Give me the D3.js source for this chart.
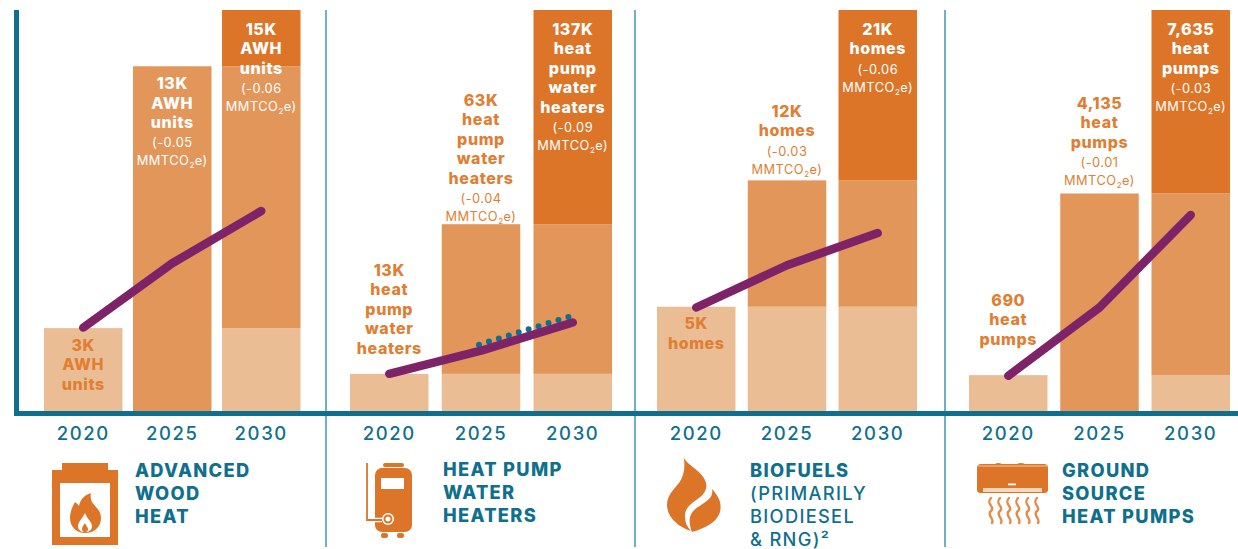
<!DOCTYPE html>
<html><head><meta charset="utf-8">
<script src="https://cdnjs.cloudflare.com/ajax/libs/d3/7.8.5/d3.min.js"></script>
<style>html,body{margin:0;padding:0;background:#fff}svg{display:block;font-family:Inter,"Open Sans",sans-serif}</style>
</head><body><svg id="c" width="1238" height="549"></svg>
<script>
const years = ["2020","2025","2030"];
const awhValues = [3.13, 12.9, 15];
const hpwhValues = [13, 64, 137];
const biofuelValues = [5.5, 12.1, 21];
const gshpValues = [700, 4150, 7635];
const awhLine = [0.042, 0.074, 0.1];
const hpwhLine = [0.019, 0.0305, 0.0445];
const biofuelLine = [0.052, 0.073, 0.089];
const gshpLine = [0.018, 0.052, 0.098];
const hpwhDots = [0.0335, 0.048];
const awhLabels = [["3K","AWH","units"],["13K","AWH","units","(-0.05","MMTCO2e)"],["15K","AWH","units","(-0.06","MMTCO2e)"]];
const hpwhLabels = [["13K","heat","pump","water","heaters"],["63K","heat","pump","water","heaters","(-0.04","MMTCO2e)"],["137K","heat","pump","water","heaters","(-0.09","MMTCO2e)"]];
const biofuelLabels = [["5K","homes"],["12K","homes","(-0.03","MMTCO2e)"],["21K","homes","(-0.06","MMTCO2e)"]];
const gshpLabels = [["690","heat","pumps"],["4,135","heat","pumps","(-0.01","MMTCO2e)"],["7,635","heat","pumps","(-0.03","MMTCO2e)"]];
const awhTitle = ["ADVANCED","WOOD","HEAT"];
const hpwhTitle = ["HEAT PUMP","WATER","HEATERS"];
const biofuelTitle = ["BIOFUELS","(PRIMARILY","BIODIESEL","& RNG)²"];
const gshpTitle = ["GROUND","SOURCE","HEAT PUMPS"];

const C = {light:"#EBBD95", mid:"#E2965A", dark:"#DC7528", text:"#E07F33", teal:"#0F6F8E", div:"#6FB0C2", line:"#7F2369"};
const baseY = 413, topY = 10, bw = 78.5;
const svg = d3.select("#c");
const yLine = d3.scaleLinear().domain([0,0.2]).range([baseY-1,topY]);

const panels = [
 {values:awhValues,line:awhLine,labels:awhLabels,title:awhTitle,range:[44,300.5],tx:135,ty:470,noBase2025:true,
  place:[{inside:17,c:C.text},{inside:17,c:"#fff"},{inside:19,c:"#fff"}]},
 {values:hpwhValues,line:hpwhLine,labels:hpwhLabels,title:hpwhTitle,range:[350,612],tx:443,ty:469,dots:hpwhDots,
  place:[{first:270,c:C.text},{first:100,c:C.text},{inside:19,c:"#fff"}]},
 {values:biofuelValues,line:biofuelLine,labels:biofuelLabels,title:biofuelTitle,range:[657,917],tx:750,ty:470,boldLines:1,
  place:[{inside:17,c:C.text},{first:111,c:C.text},{inside:19,c:"#fff"}]},
 {values:gshpValues,line:gshpLine,labels:gshpLabels,title:gshpTitle,range:[969,1230],tx:1062,ty:470,noBase2025:true,
  place:[{first:300,c:C.text},{first:103,c:C.text},{inside:19,c:"#fff"}]}
];

panels.forEach(p=>{
  const W = p.range[1]-p.range[0], gap=(W-3*bw)/2;
  const x = d3.scaleBand().domain(years).range(p.range).paddingInner(gap/(bw+gap)).paddingOuter(0);
  const y = d3.scaleLinear().domain([0,d3.max(p.values)]).range([baseY-1,topY]);
  const g = svg.append("g");
  years.forEach((yr,i)=>{
    const lv=[0,...p.values];
    for(let j=0;j<=i;j++){
      let lo=lv[j], hi=lv[j+1];
      if(i===1&&p.noBase2025){ if(j===0) continue; lo=0; }
      g.append("rect").attr("x",x(yr)).attr("width",x.bandwidth())
       .attr("y",y(hi)).attr("height",y(lo)-y(hi))
       .attr("fill",[C.light,C.mid,C.dark][j]);
    }
  });
  const ln = d3.line().x((d,i)=>x(years[i])+x.bandwidth()/2).y(d=>yLine(d));
  if(p.dots){
    const xd=d3.scaleLinear().domain([0,1]).range([x(years[1])+x.bandwidth()/2-2,x(years[2])+x.bandwidth()/2]);
    svg.append("path").datum(p.dots)
     .attr("d",d3.line().x((d,i)=>xd(i)).y(d=>yLine(d)))
     .attr("fill","none").attr("stroke",C.teal).attr("stroke-width",6).attr("stroke-linecap","round").attr("stroke-dasharray","0 10.4");
  }
  svg.append("path").datum(p.line).attr("d",ln).attr("fill","none").attr("stroke",C.line)
    .attr("stroke-width",8.5).attr("stroke-linecap","round").attr("stroke-linejoin","round");
  // value labels
  const tg = svg.append("g").attr("text-anchor","middle");
  p.labels.forEach((lines,i)=>{
    const pl=p.place[i];
    const cx=x(years[i])+x.bandwidth()/2;
    const y0 = pl.first!==undefined ? pl.first : y(p.values[i])+pl.inside;
    lines.forEach((t,k)=>{
      const sm = t.startsWith("(")||t.startsWith("MMT");
      const yy = y0 + k*19.5 + (sm?1:0) - (t.startsWith("MMT")?1.5:0);
      const el = tg.append("text").attr("x",cx).attr("y",yy).attr("dy","0.36em").attr("fill",pl.c)
        .attr("font-size",sm?12.8:16).attr("font-weight",sm?400:800)
        .attr("letter-spacing",sm?0.5:0.6);
      if(t.includes("CO2")){
        const parts=t.split("2");
        el.append("tspan").text(parts[0]);
        el.append("tspan").attr("font-size",8).attr("dy",3).text("2");
        el.append("tspan").attr("dy",-3).text(parts[1]);
      } else el.text(t);
    });
  });
  // year axis
  const ax = svg.append("g").attr("transform",`translate(0,${baseY+20})`).call(d3.axisBottom(x).tickSize(0).tickPadding(0));
  ax.select(".domain").remove();
  ax.selectAll("text").attr("fill",C.teal).attr("font-size",18.5).attr("font-weight",500)
    .attr("font-family","Inter").attr("letter-spacing",1.6).attr("dy","0.36em");
  // panel title
  const tt = svg.append("g");
  p.title.forEach((t,k)=>{
    const reg = p.boldLines && k>=p.boldLines;
    tt.append("text").attr("x",p.tx).attr("y",p.ty+k*23.2).attr("dy","0.36em").attr("fill",C.teal)
      .attr("font-size",18.3).attr("font-weight",reg?500:800).attr("letter-spacing",1.3).text(t);
  });
});

// axes and dividers
[326,635,945].forEach(xx=>{
  svg.append("line").attr("x1",xx).attr("x2",xx).attr("y1",topY).attr("y2",547).attr("stroke",C.div).attr("stroke-width",2);
});
svg.append("rect").attr("x",14).attr("y",topY).attr("width",5).attr("height",baseY+3-topY).attr("fill",C.teal);
svg.append("rect").attr("x",14).attr("y",baseY-2).attr("width",1224).attr("height",5).attr("fill",C.teal);

// icons
const o=C.dark;
const i1=svg.append("g");
i1.append("path").attr("fill",o).attr("d","M62 467V463H108V470H118V545H52V470H62Z");
i1.append("rect").attr("x",60).attr("y",483).attr("width",50).attr("height",54).attr("fill","#fff");
i1.append("path").attr("fill",o).attr("d","M91 493C84 495 80 500 79 506C77 503 76 503 75 502C71 509 70 514 70 518C70 527 77 533 85 533C94 533 101 527 101 518C101 510 95 507 92 502C91 499 90 496 91 493Z");
i1.append("path").attr("fill","#fff").attr("d","M85 513C82 519 78 522 78 526C78 530 81 532 85 532C89 532 92 530 92 526C92 522 87 519 85 513Z");
i1.append("path").attr("fill",o).attr("d","M85 523C83 526 82 527 82 529C82 531 83 532 85 532C87 532 88 531 88 529C88 527 86 526 85 523Z");

const i2=svg.append("g");
i2.append("rect").attr("x",383).attr("y",463).attr("width",21).attr("height",4).attr("rx",2).attr("fill",o);
i2.append("rect").attr("x",375).attr("y",468).attr("width",37).attr("height",64).attr("rx",7).attr("fill",o);
i2.append("rect").attr("x",381).attr("y",478).attr("width",23).attr("height",11).attr("fill","#fff");
i2.append("path").attr("fill","none").attr("stroke","#fff").attr("stroke-width",4.5).attr("d","M370 520H382");
i2.append("path").attr("fill","none").attr("stroke",o).attr("stroke-width",1.8).attr("d","M367 463V520H382");
i2.append("circle").attr("cx",388).attr("cy",519).attr("r",6).attr("fill","#fff");
i2.append("circle").attr("cx",388).attr("cy",519).attr("r",3.5).attr("fill","none").attr("stroke",o).attr("stroke-width",2);
i2.append("rect").attr("x",381).attr("y",533).attr("width",7).attr("height",5).attr("rx",2).attr("fill",o);
i2.append("rect").attr("x",397).attr("y",533).attr("width",7).attr("height",5).attr("rx",2).attr("fill",o);

const i3=svg.append("g").attr("fill",o);
i3.append("path").attr("d","M683 455C684 464 699 468 705 480C708 487 706 493 699 498C692 503 684 508 685 517C685 522 687 527 691 531C678 527 667 517 667 505C667 496 673 490 679 483C684 476 686 466 683 455Z");
i3.append("path").attr("d","M712 489C719 497 722 503 720 512C717 522 706 528 692 532C690 527 689 522 690 517C692 510 698 507 704 503C711 498 713 495 712 489Z");

const i4=svg.append("g");
i4.append("path").attr("fill",o).attr("d","M977 468Q977 464 981 464H995Q998 462 1002 464H1017Q1021 462 1025 464H1044Q1048 464 1048 468V490Q1048 493 1044 493H981Q977 493 977 490Z");
i4.append("rect").attr("x",978).attr("y",465.5).attr("width",69).attr("height",1).attr("fill","#F4C9A5");
i4.append("rect").attr("x",983).attr("y",488).attr("width",59).attr("height",4).attr("fill","#F6D7BD");
i4.append("rect").attr("x",1008).attr("y",483.5).attr("width",8).attr("height",1.8).attr("fill","#fff");
[990,999,1008,1017,1027,1036].forEach(xx=>{
  i4.append("path").attr("fill","none").attr("stroke","#E58B4A").attr("stroke-width",2.4).attr("stroke-linecap","round")
    .attr("d",`M${xx+1} 498C${xx-5} 504 ${xx+6} 507 ${xx+1} 511C${xx-4} 515 ${xx+5} 519 ${xx+2} 523`);
});
</script></body></html>
